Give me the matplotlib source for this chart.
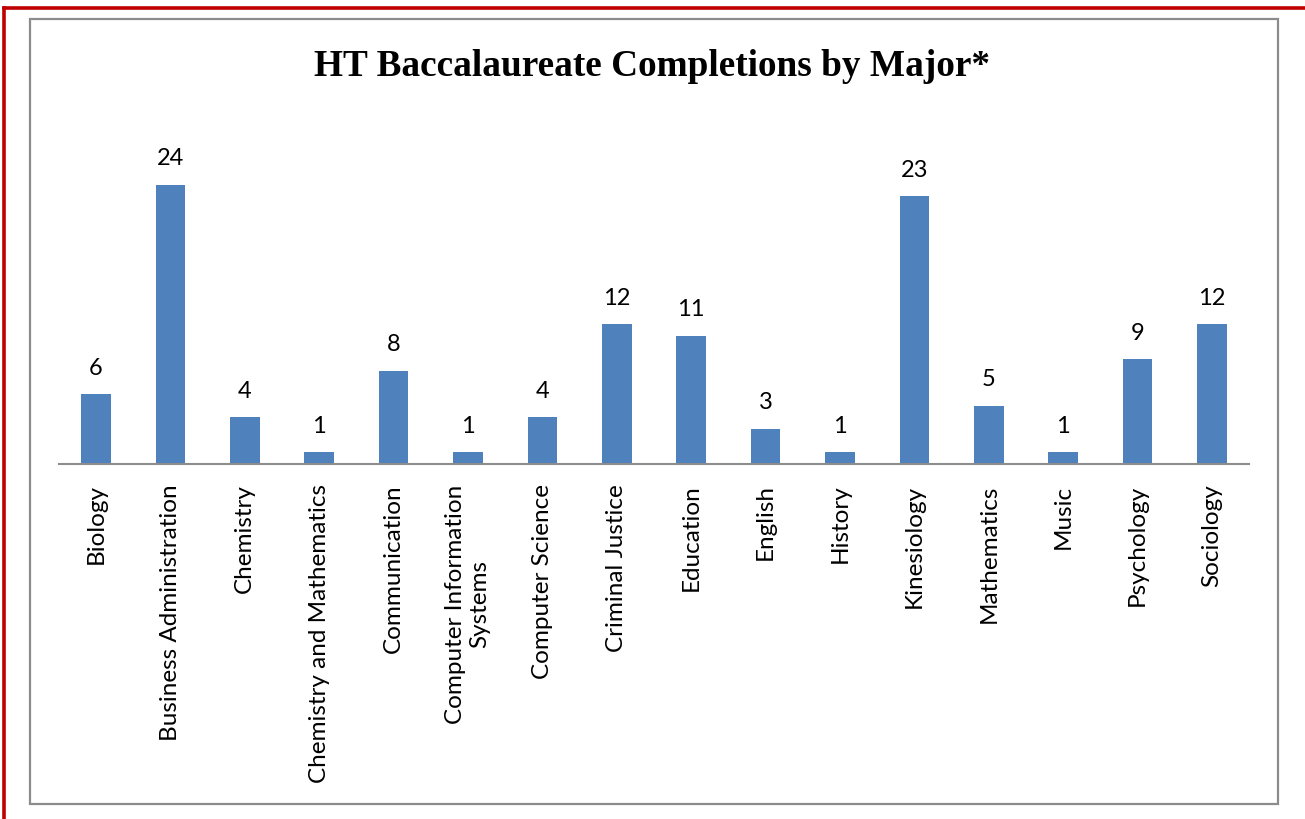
import matplotlib
matplotlib.use("Agg")
import matplotlib.pyplot as plt
from matplotlib.patches import Rectangle
from matplotlib.lines import Line2D

majors = ["Biology", "Business Administration", "Chemistry", "Chemistry and Mathematics",
          "Communication", "Computer Information\nSystems", "Computer Science",
          "Criminal Justice", "Education", "English", "History", "Kinesiology",
          "Mathematics", "Music", "Psychology", "Sociology"]
completions = [6, 24, 4, 1, 8, 1, 4, 12, 11, 3, 1, 23, 5, 1, 9, 12]
title = "HT Baccalaureate Completions by Major*"

W, H = 1305, 820
fig = plt.figure(figsize=(W / 100, H / 100), dpi=100)

def fx(px):
    return px / W

def fy(py):
    return 1 - py / H

# page border (red) and chart frame (gray)
fig.add_artist(Line2D([fx(4), fx(4)], [fy(9), fy(820)], color="#C00000", lw=2.6, transform=fig.transFigure))
fig.add_artist(Line2D([fx(4), fx(1305)], [fy(9), fy(9)], color="#C00000", lw=2.6, transform=fig.transFigure))
fig.add_artist(Rectangle((fx(30), fy(805)), fx(1278) - fx(30), fy(20) - fy(805),
                         fill=False, edgecolor="#8C8C8C", lw=1.6, transform=fig.transFigure))

ax_left, ax_right = 58.8, 1249.2
ax_bottom, ax_top = 465, 116
ax = fig.add_axes([fx(ax_left), fy(ax_bottom), fx(ax_right) - fx(ax_left), fy(ax_top) - fy(ax_bottom)])

x = list(range(len(majors)))
bars = ax.bar(x, completions, width=0.4, color="#4F81BD")
ax.set_xlim(-0.5, len(majors) - 0.5)
ax.set_ylim(0, 30)

for xi, v in zip(x, completions):
    ax.annotate(str(v), (xi, v), xytext=(0, 12), textcoords="offset points",
                ha="center", va="bottom", fontsize=17, family="Lato")

for s in ["top", "right", "left"]:
    ax.spines[s].set_visible(False)
ax.spines["bottom"].set_color("#8C8C8C")
ax.spines["bottom"].set_linewidth(1.5)
ax.set_yticks([])
ax.set_xticks(x)
ax.set_xticklabels(majors, rotation=90, fontsize=17.5, family="Lato", ha="center", va="top",
                   multialignment="center")
ax.tick_params(axis="x", length=0, pad=14)

fig.text(fx(652), fy(66), title, ha="center", va="center", fontsize=26.8,
         fontweight="bold", family="Liberation Serif")

fig.savefig("out.png", dpi=100)
